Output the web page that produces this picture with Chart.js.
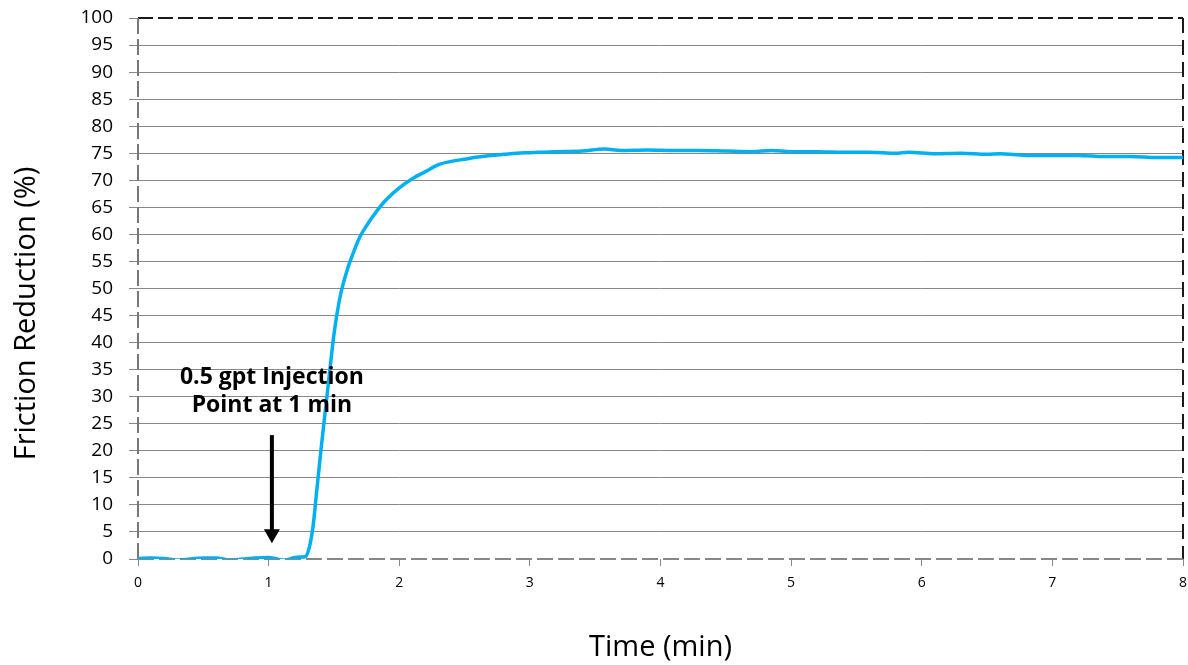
<!DOCTYPE html>
<html>
<head>
<meta charset="utf-8">
<script src="https://cdn.jsdelivr.net/npm/chart.js@4/dist/chart.umd.min.js"></script>
<style>
  html, body { margin: 0; padding: 0; background: #fff; }
  #wrap { width: 1188px; height: 665px; }
</style>
</head>
<body>
<div id="wrap"><canvas id="myChart"></canvas></div>
<script>
// Time (min) and friction reduction (%)
const timeMin = [
  0, 0.1, 0.2, 0.3, 0.4, 0.5, 0.6, 0.7, 0.8, 0.9, 1.0, 1.05, 1.1, 1.15, 1.2, 1.28,
  1.31, 1.34, 1.37, 1.40, 1.43, 1.46, 1.50, 1.55, 1.60, 1.65, 1.70, 1.75, 1.80, 1.85, 1.90,
  2.0, 2.1, 2.2, 2.3, 2.4, 2.5, 2.6, 2.7, 2.8, 2.9, 3.0, 3.2, 3.4, 3.57, 3.7, 3.9,
  4.1, 4.3, 4.5, 4.7, 4.85, 5.0, 5.2, 5.4, 5.6, 5.8, 5.9, 6.1, 6.3, 6.5, 6.6, 6.8,
  7.0, 7.2, 7.4, 7.6, 7.8, 8.0
]
const frictionReduction = [
  0.1, 0.2, 0.1, -0.2, 0.0, 0.2, 0.2, -0.2, 0.0, 0.2, 0.3, 0.1, -0.2, -0.1, 0.3, 0.4,
  2.0, 6.0, 13.0, 20.0, 26.6, 33.0, 41.5, 48.8, 53.3, 56.7, 59.6, 61.6, 63.4, 65.0, 66.4,
  68.6, 70.3, 71.6, 72.9, 73.5, 73.9, 74.3, 74.6, 74.8, 75.0, 75.1, 75.3, 75.4, 75.8, 75.5, 75.6,
  75.5, 75.5, 75.4, 75.3, 75.5, 75.3, 75.3, 75.2, 75.2, 75.0, 75.2, 74.9, 75.0, 74.8, 74.9, 74.6,
  74.6, 74.6, 74.4, 74.4, 74.2, 74.2
]
const yTicks = [0, 5, 10, 15, 20, 25, 30, 35, 40, 45, 50, 55, 60, 65, 70, 75, 80, 85, 90, 95, 100]
const xTicks = [0, 1, 2, 3, 4, 5, 6, 7, 8]

const yTitle = 'Friction Reduction (%)'
const noteLines = ['0.5 gpt Injection', 'Point at 1 min']
const noteAt = { x: 1.025, y1: 33.5, y2: 28.3 }
const arrowFrom = 22.9
const arrowTo = 2.9

const FONT = '"Open Sans", "Liberation Sans", sans-serif'

function dashed(ctx, x1, y1, x2, y2, color, dash) {
  ctx.strokeStyle = color
  ctx.setLineDash(dash)
  ctx.beginPath()
  ctx.moveTo(x1, y1)
  ctx.lineTo(x2, y2)
  ctx.stroke()
}

// dashed frame round the plot area
const framePlugin = {
  id: 'frame',
  beforeDatasetsDraw(chart) {
    const { ctx, chartArea: a } = chart
    ctx.save()
    ctx.lineWidth = 2
    dashed(ctx, a.left, a.top, a.right, a.top, '#1a1a1a', [15, 5])
    dashed(ctx, a.right, a.top, a.right, a.bottom, '#1a1a1a', [15, 7])
    dashed(ctx, a.left, a.bottom, a.right, a.bottom, '#888', [16, 5])
    dashed(ctx, a.left, a.bottom, a.left, a.top, '#777', [16, 5])
    ctx.restore()
  },
  // injection note, arrow and the y title (sits a bit below centre in the original)
  afterDatasetsDraw(chart) {
    const { ctx, scales, chartArea: a } = chart
    const x = scales.x.getPixelForValue(noteAt.x)
    ctx.save()
    ctx.fillStyle = '#000'
    ctx.font = 'bold 23px ' + FONT
    ctx.textAlign = 'center'
    ctx.textBaseline = 'middle'
    ctx.fillText(noteLines[0], x, scales.y.getPixelForValue(noteAt.y1))
    ctx.fillText(noteLines[1], x, scales.y.getPixelForValue(noteAt.y2))

    const top = scales.y.getPixelForValue(arrowFrom)
    const tip = scales.y.getPixelForValue(arrowTo)
    ctx.strokeStyle = '#000'
    ctx.lineWidth = 4
    ctx.beginPath()
    ctx.moveTo(x, top)
    ctx.lineTo(x, tip - 12)
    ctx.stroke()
    ctx.beginPath()
    ctx.moveTo(x - 8, tip - 14)
    ctx.lineTo(x + 8, tip - 14)
    ctx.lineTo(x, tip)
    ctx.closePath()
    ctx.fill()

    ctx.translate(27, (a.top + a.bottom) / 2 + 25)
    ctx.rotate(-Math.PI / 2)
    ctx.font = '29px ' + FONT
    ctx.fillText(yTitle, 0, 0)
    ctx.restore()
  }
}

const ctx = document.getElementById('myChart')
new Chart(ctx, {
  type: 'line',
  data: {
    datasets: [{
      data: timeMin.map((t, i) => ({ x: t, y: frictionReduction[i] })),
      borderColor: '#00B0F0',
      borderWidth: 3.5,
      pointRadius: 0,
      cubicInterpolationMode: 'monotone',
      fill: false
    }]
  },
  options: {
    responsive: true,
    maintainAspectRatio: false,
    animation: false,
    layout: { padding: { top: 18, right: 5, left: 0, bottom: 0 } },
    plugins: { legend: { display: false }, tooltip: { enabled: false } },
    scales: {
      x: {
        type: 'linear',
        min: 0,
        max: 8,
        afterBuildTicks: axis => { axis.ticks = xTicks.map(v => ({ value: v })) },
        afterFit: axis => {
          axis.height = 106
          axis.paddingLeft = 0
          axis.paddingRight = 0
        },
        ticks: { color: '#000', font: { family: FONT, size: 14 }, padding: 9, maxRotation: 0 },
        grid: { drawOnChartArea: false, drawTicks: true, tickLength: 7, tickColor: '#888', lineWidth: 1 },
        border: { display: false },
        title: {
          display: true,
          text: 'Time (min)',
          color: '#000',
          font: { family: FONT, size: 29 },
          padding: { top: 4, bottom: 0 }
        }
      },
      y: {
        min: 0,
        max: 100,
        afterBuildTicks: axis => { axis.ticks = yTicks.map(v => ({ value: v })) },
        afterFit: axis => {
          axis.width = 138
          axis.paddingTop = 0
          axis.paddingBottom = 0
        },
        ticks: { color: '#000', font: { family: FONT, size: 19 }, padding: 16 },
        grid: {
          color: c => (c.tick && (c.tick.value === 0 || c.tick.value === 100)) ? 'rgba(0,0,0,0)' : '#888',
          tickColor: '#888',
          tickLength: 9,
          lineWidth: 1
        },
        border: { display: false },
        title: { display: false }
      }
    }
  },
  plugins: [framePlugin]
})
</script>
</body>
</html>
